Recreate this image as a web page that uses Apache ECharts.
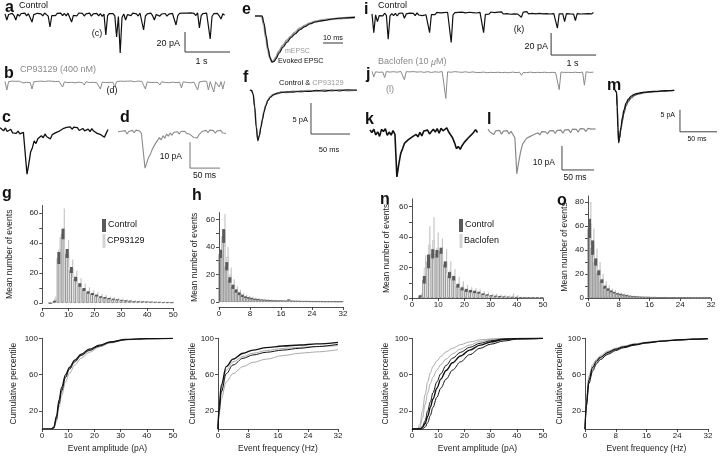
<!DOCTYPE html>
<html><head><meta charset="utf-8">
<script src="https://cdn.jsdelivr.net/npm/echarts@6/dist/echarts.min.js"></script>
<style>html,body{margin:0;padding:0;background:#fff}#c{width:720px;height:456px}</style>
</head><body><div id="c"></div>
<script>
// ================= DATA =================
// long spontaneous traces (pA), sampled every dtLong seconds
const dtLong = 0.04;
const traceA = [1.2,-5,0.5,-1.0,1.6,-0.6,-5,0.8,-1.2,1.5, -0.5,1.8,-0.8,1.3,-0.2,-7,0.4,-1.0,1.7,-0.3,
 1.2,-0.9,2.0,0.1,-1.1,-12,-0.5,1.4,-0.7,1.6, -0.2,1.9,-0.6,1.5,-0.9,1.8,0.0,-7,-0.4,1.3,
 -0.8,2.0,0.2,1.6,-1.0,1.2,-0.3,1.9,-1.2,1.1, -0.5,1.7,-0.9,1.4,-1.3,0.9,-20,-0.6,1.5,-0.4,
 1.3,-0.8,-22,-1.5,-38,-2.5,1.0,-5,0.3,1.6, -0.6,1.8,-0.2,1.1,-1.0,2.0,0.1,-15,-1.0,1.2,
 -0.4,1.9,-0.7,-5,0.5,1.4,-1.1,1.0,-0.3,1.5, -1.2,0.9,-0.5,1.7,-0.1,-10,-0.6,1.6,-0.4,2.0,
 0.3,1.8,-0.2,2.2,0.2,1.6,-0.5,2.1,-13,-0.6, 1.5,-0.3,1.9,0.0,-24,-1.5,1.3,-0.4,1.7,-0.8, -4,1.2,-0.2];
const traceB = [0.6,-8,0.3,-0.8,0.9,-0.4,0.7,-0.9,0.8,-0.2, -0.9,0.7,-0.3,0.9,-0.6,-7,0.2,-0.7,0.6,-0.5,
 0.9,-0.3,0.5,-0.8,1.0,-0.4,0.8,-0.6,0.4,-0.9, 0.7,-0.5,-5,0.1,0.8,-0.6,0.9,-0.3,0.6,-0.8,
 1.0,-0.2,0.5,-0.7,-3,0.2,0.9,-0.5,1.1,-0.3, 0.4,-0.8,0.7,-7,-0.2,0.8,-0.6,0.6,-0.4,1.0,
 -0.3,-5,0.3,-0.6,0.9,-0.5,0.7,-0.9,0.8,-0.2, 1.0,-0.4,0.3,-0.8,0.9,-0.3,0.6,-0.7,-7,0.1,
 0.8,-0.5,0.9,-0.3,0.7,-0.6,-3,0.2,0.9,-0.4, 0.8,-0.7,0.6,-0.2,1.0,-0.6,0.5,-0.3,-6,0.2,
 0.9,-0.4,0.6,-0.8,0.7,-0.2,0.9,-8,0.1,-0.6, 0.8,-0.5,0.7,-8,0.3,-0.4,-10,0.2,-0.6,-5, 0.4,-7,0.6];
const traceI = [1.0,-16,0.2,-6,-0.5,1.2,-0.8,1.6,-0.4,-22, -0.8,1.3,-0.6,1.5,-0.9,1.4,0.0,1.8,-3,1.0,
 -0.4,1.7,0.1,1.4,-0.6,1.9,0.0,1.6,-0.5,1.3, 0.2,1.8,-16,0.4,2.0,0.3,2.3,0.6,1.9,0.1,
 2.2,0.5,2.5,0.8,-25,0.0,2.1,0.4,2.4,0.7, 2.6,0.9,2.0,0.3,2.5,1.0,2.2,0.5,1.8,0.2,
 2.4,0.6,-16,0.5,2.3,0.8,2.7,1.0,2.1,0.4, 2.6,1.2,2.9,0.9,2.4,1.3,2.8,0.7,2.5,1.1,
 2.7,0.8,2.3,-2,2.6,1.2,3.0,1.0,2.5,1.4, 2.9,1.1,2.6,1.5,3.1,1.0,2.8,1.3,2.4,0.9,
 2.7,1.2,2.9,-12,1.0,2.6,1.1,-6,1.3,2.7, 1.0,2.5,0.8,-5,1.2,2.6,0.9,2.4,1.1,2.8, 1.3,2.5,1.0,2.3];
const traceJ = [0.6,-4.5,0.2,0.9,-0.3,1.1,0.0,-5,0.4,1.2, -0.1,1.5,0.3,1.3,-0.2,1.4,0.5,1.2,-7,0.3,
 1.4,0.1,1.6,0.4,1.3,-0.1,1.5,0.2,1.1,-0.3, 1.2,0.3,1.0,-0.4,1.1,0.2,1.3,-0.2,0.9,0.4,
 1.0,-24,0.1,0.8,-0.2,1.2,0.3,1.4,0.0,1.1, -0.3,1.0,0.2,1.3,-0.4,0.9,0.1,1.2,-0.5,0.8,
 -0.4,0.9,-0.1,0.7,-0.6,0.8,-0.3,1.0,-0.5,0.6, -0.2,0.9,-0.6,0.7,-0.3,0.8,-0.7,0.5,-0.1,0.9,
 -0.5,0.6,-0.2,-3,-0.4,0.7,-0.6,0.8,-0.1,0.5, -0.6,0.8,-0.3,0.6,-0.5,0.9,-0.2,0.7,-0.6,0.5,
 -0.3,0.8,-0.5,0.6,-16,0.0,0.7,-0.4,0.8,-0.3, 0.6,-0.5,0.9,-0.2,0.5,-0.6,0.8,-0.1,-12,0.2, 0.7,-0.4,0.6,-0.1];
// single events (pA), sampled every dtShort ms
const dtShort = 3;
const traceC = [0.9,0.4,-0.3,0.8,-0.6,-0.2,0.3,-1.1,-0.6,-1.3, -0.4,-1.5,-0.8,-0.9,-1.0,-17,-13,-8.5,-6.8,-4.2,
 -5.2,-3.4,-4.0,-2.2,-3.0,-1.5,-2.6,-2.4,-3.4,-1.8, -1.8,-1.0,-1.6,-0.4,-0.9,0.5,-0.1,1.0,0.6,1.2,
 0.3,1.1,0.6,0.9,-0.2,0.4,0.6,-0.3,-0.9,0.3, -0.6,0.5,-0.4,-0.2,-1.3,-0.7,-1.8,-2.4,-2.8,-1.2,0.2];
const traceD = [0.5,-0.2,0.7,0.3,0.9,-0.4,0.6,0.2,1.0,0.1, 1.1,0.5,0.8,-0.1,-0.5,-13.5,-11.5,-9.3,-8.2,-6.3,
 -5.7,-3.8,-3.5,-1.8,-2.7,-1.0,-2.0,-0.4,-1.2,0.0, -0.9,0.3,-0.2,0.5,-0.4,0.6,0.1,0.7,-0.1,0.6,
 -0.5,-0.6,-1.7,-1.8,-1.9,-0.6,-0.4,0.7,0.4,1.0, 0.1,1.1,0.6,0.9,-0.1,0.8,0.4,1.0,0.1,0.7,-0.2];
const traceK = [1.2,0.2,1.6,-0.8,0.5,-1.4,1.5,0.6,1.8,-1.0, 0.4,-0.9,1.0,-0.6,-18.3,-13,-8.5,-6.5,-4.2,-3.8,
 -2.8,-2.6,-1.6,-2.2,-0.6,-1.6,0.3,-1.2,0.8,0.1, 1.2,-0.4,0.6,1.6,0.4,1.8,-0.1,2.0,0.9,1.7,
 2.1,0.4,0.6,-2.0,-4.0,-6.5,-5.6,-6.8,-5.2,-4.0, -4.5,-2.2,-2.6,-0.6,0.3,1.4,0.2];
const traceL = [1.6,0.4,1.0,-0.6,0.9,0.2,1.1,-0.5,0.8,0.1, 1.0,-0.4,0.7,-0.6,-2,-17,-12,-7.8,-4.6,-4.0,
 -2.3,-2.2,-1.4,-1.2,-0.6,-0.9,0.1,-0.8,0.6,-0.2, 0.5,-0.4,0.9,0.3,1.0,-0.2,1.1,0.5,1.2,-0.1,
 1.3,0.7,1.4,0.1,1.6,0.9,1.5,0.4,1.8,1.0, 1.7,0.6,1.9,1.2,1.6,0.8,1.7];
// averaged waveforms
const eTime   = [0,2,3.5,4.5,5.5,6.5,7.5,8.5,9.5,10.5,12,14,16,18,20,22.5,25,27.5,30,34,38,42,46,50];
const eMini   = [0,0,-0.01,-0.2,-0.48,-0.74,-0.92,-1.0,-0.97,-0.9,-0.77,-0.64,-0.53,-0.44,-0.36,-0.27,-0.21,-0.16,-0.12,-0.09,-0.07,-0.05,-0.04,-0.03];
const eEvoked = [0,0,0,-0.16,-0.42,-0.7,-0.9,-1.0,-0.99,-0.93,-0.81,-0.68,-0.57,-0.47,-0.39,-0.3,-0.23,-0.17,-0.13,-0.1,-0.07,-0.05,-0.04,-0.03];
const fTime    = [0,2,4,6,8,10,12,14,16,18,20,23,26,30,35,40,47,55,65,75,85,95,105,115,125,137];
const fControl = [0,-0.1,-0.7,-2.8,-6.0,-8.2,-7.4,-6.0,-4.8,-3.6,-2.6,-1.7,-1.2,-0.8,-0.5,-0.45,-0.3,-0.35,-0.15,-0.25,-0.05,-0.2,0.0,-0.15,0.05,-0.05];
const fCP      = [0,-0.05,-0.6,-2.6,-5.8,-8.0,-7.3,-5.9,-4.6,-3.4,-2.5,-1.6,-1.1,-0.7,-0.6,-0.3,-0.4,-0.2,-0.3,-0.1,-0.2,0.0,-0.15,0.05,-0.1,0.0];
const mTime     = [0,2,3,4,5,6,8,10,12,15,18,22,26,30,35,40,48,56,64,72,80];
const mControl  = [0,-0.5,-4,-9,-12,-11,-8.5,-6.3,-4.6,-3.0,-2.1,-1.4,-1.0,-0.8,-0.6,-0.5,-0.35,-0.3,-0.2,-0.15,-0.1];
const mBaclofen = [0,-0.4,-3.5,-8.5,-11.6,-11,-9,-7,-5.3,-3.6,-2.6,-1.8,-1.3,-1.0,-0.8,-0.6,-0.45,-0.35,-0.25,-0.2,-0.1];
// histograms (mean number of events, sem)
const ampBins  = [3.1,4.7,6.3,7.9,9.5,11.1,12.7,14.3,15.9,17.5,19.1,20.7,22.3,23.9,25.5,27.1,28.7,30.3,31.9,33.5,35.1,36.7,38.3,39.9,41.5,43.1,44.7,46.3,47.9,49.5];
const freqBins = [0.4,1.2,2.0,2.8,3.6,4.4,5.2,6.0,6.8,7.6,8.4,9.2,10.0,10.8,11.6,12.4,13.2,14.0,14.8,15.6,16.4,17.2,18.0,18.8,19.6,20.4,21.2,22.0,22.8,23.6,24.4,25.2,26.0,26.8,27.6,28.4,29.2,30.0,30.8,31.6];
const gCtrlMean = [0,1,30,46,33,22,16,12,9,7,6,5,4,3.5,3,2.5,2.2,1.8,1.5,1.3,1.1,1,0.9,0.8,0.7,0.6,0.6,0.5,0.5,0.4];
const gCtrlSem  = [0,0.5,4,3.5,3,2,1.5,1.2,1,0.8,0.7,0.6,0.5,0.5,0.4,0.4,0.3,0.3,0.3,0.3,0.2,0.2,0.2,0.2,0.2,0.2,0.2,0.2,0.2,0.2];
const gCPMean   = [0,3,36,50,33,23,17,13,10,8,6.5,5.5,4.5,4,3.2,2.8,2.4,2,1.7,1.5,1.3,1.1,1,0.9,0.8,0.7,0.6,0.6,0.5,0.5];
const gCPSem    = [0,1.5,8,13,9,6,4.5,3.5,3,2.5,2,1.8,1.5,1.3,1.1,1,0.9,0.8,0.7,0.6,0.6,0.5,0.5,0.4,0.4,0.4,0.3,0.3,0.3,0.3];
const hCtrlMean = [35,48,26,16,11,8,6,4.5,3.5,3,2.5,2,1.8,1.5,1.4,1.2,1.1,1,1,0.9,0.9,0.8,1.5,0.8,0.7,0.7,0.6,0.6,0.6,0.5,0.5,0.5,0.5,0.4,0.4,0.4,0.4,0.3,0.3,0.3];
const hCtrlSem  = [3,5,3,2,1.5,1.2,1,0.8,0.6,0.5,0.5,0.4,0.4,0.3,0.3,0.3,0.3,0.2,0.2,0.2,0.2,0.2,0.4,0.2,0.2,0.2,0.2,0.2,0.2,0.2,0.2,0.2,0.2,0.2,0.2,0.2,0.2,0.2,0.2,0.2];
const hCPMean   = [37,52,33,20,13,9,7,5,4,3.5,3,2.5,2.2,1.9,1.7,1.5,1.3,1.2,1.1,1,1,0.9,1.2,0.9,0.8,0.8,0.7,0.7,0.7,0.6,0.6,0.6,0.6,0.5,0.5,0.5,0.5,0.4,0.4,0.4];
const hCPSem    = [5,12,7,5,3.5,2.5,2,1.5,1.2,1,0.8,0.7,0.6,0.6,0.5,0.5,0.5,0.4,0.4,0.4,0.4,0.4,0.4,0.3,0.3,0.3,0.3,0.3,0.3,0.3,0.3,0.3,0.3,0.3,0.3,0.3,0.3,0.3,0.3,0.3];
const nCtrlMean = [1,12,24,29,29,31,22,15,13,8,6,5,4.5,4,3.5,2.5,2,1.5,1.2,1,0.8,0.7,0.6,0.5,0.4,0.3,0.3,0.2,0.2,0.2];
const nCtrlSem  = [0.8,2.5,4.5,3,2.5,2,2,2,1.5,1.2,1,1,0.8,0.8,0.6,0.5,0.4,0.3,0.3,0.3,0.2,0.2,0.2,0.2,0.2,0.2,0.2,0.2,0.2,0.2];
const nBacMean  = [2,20,35,38,33,30,24,18,14,10,8,6,5,4.5,4,3,2.5,2,1.8,1.5,1.2,1,1.5,1.2,0.6,0.5,0.4,0.4,0.3,0.3];
const nBacSem   = [1,8,12,15,10,9,8,6,5,4,3,2.5,2,2,1.8,1.5,1.2,1,1,0.8,0.7,0.6,1.5,0.8,0.4,0.4,0.3,0.3,0.3,0.3];
const oCtrlMean = [58,42,30,21,14,9,7,5.5,4.5,3.5,3,2.5,2,1.6,1.3,1.1,1,0.9,0.8,0.8,0.7,0.7,0.6,0.6,0.6,0.5,0.5,0.5,0.5,0.4,0.4,0.4,0.4,0.4,0.3,0.3,0.3,0.3,0.3,0.3];
const oCtrlSem  = [8,6,3,2,1.5,1.2,1,0.8,0.6,0.5,0.5,0.4,0.4,0.3,0.3,0.3,0.2,0.2,0.2,0.2,0.2,0.2,0.2,0.2,0.2,0.2,0.2,0.2,0.2,0.2,0.2,0.2,0.2,0.2,0.2,0.2,0.2,0.2,0.2,0.2];
const oBacMean  = [62,46,33,24,16,11,8,6,5,4,3.5,3,2.5,2,1.6,1.3,1.1,1,0.9,0.9,0.8,0.8,0.7,0.7,0.7,0.6,0.6,0.6,0.5,0.5,0.5,0.5,0.5,0.4,0.4,0.4,0.4,0.4,0.4,0.4];
const oBacSem   = [18,12,8,6,4,3,2.5,2,1.5,1.2,1,0.8,0.7,0.6,0.5,0.5,0.4,0.4,0.4,0.4,0.3,0.3,0.3,0.3,0.3,0.3,0.3,0.3,0.3,0.3,0.3,0.3,0.3,0.3,0.3,0.3,0.3,0.3,0.3,0.3];
// cumulative distributions (percentile)
const gAmpX     = [0,3.5,4.5,5.5,6.5,7.5,9,10.5,12.5,15,18,22,26,32,40,50];
const gCumCtrl1 = [0,0,2,14,32,46,60,68,76,82.5,88,92.5,96,98.8,99.7,100];
const gCumCtrl2 = [0,0,1,11,28,42,57,66,74,81,86.5,91.5,95.5,98.5,99.6,100];
const gCumCP1   = [0,0,1.5,12,30,44,58,67,75,81.5,87,92,95.8,98.6,99.6,100];
const gCumCP2   = [0,0,0.5,8,24,37,52,61.5,70.5,78,84.5,90.5,94.8,98.2,99.5,100];
const hFreqX    = [0,0.3,0.9,2.2,4,6.7,9.3,12.9,17.3,21.8,26.2,32];
const hCumCtrl1 = [0,25,48.5,68.8,77,83.5,87,89.7,91.5,92.6,93.8,95.5];
const hCumCtrl2 = [0,20,41,61,70.6,78,81.6,84.6,87,89,90.8,93.4];
const hCumCP1   = [0,22,45,65,74,80,83.5,86.5,88.8,90,91,92];
const hCumCP2   = [0,16,34,52,61,68.8,73.5,77,81,83.5,85,87.5];
const nAmpX     = [0,2,3,4,5,6,7,8,9.5,11,13,15.5,18.5,22,26,30,35,40,50];
const nCumBac1  = [0,0,5,20,38,52,62,69,75,80,85,89,93,96,98.3,99.3,99.8,100,100];
const nCumBac2  = [0,0,2,12,27,40,50,57,65,71,77,83,88,92.5,96.5,98.6,99.5,100,100];
const nCumCtrl1 = [0,0,0,3,9,20,30,40,52,61,70,78,84.5,90,94.5,97.3,99.2,99.8,100];
const nCumCtrl2 = [0,0,0,1.5,6,14,24,33,45,55,64.5,73,80.5,87,92.5,96,98.6,99.6,100];
const nCumCtrl3 = [0,0,0,0,2,7,15,24,35,45,55,65,74,82,89,93.5,97,99,100];
const oFreqX    = [0,0.4,1,2,3,4,6,8,10,13,16,20,24,28,32];
const oCumBac1  = [0,35,58,71,77,81,86,89,91.5,94,95.8,97.4,98.5,99.2,99.8];
const oCumCtrl1 = [0,30,54,68,75,79,84.5,88,90.5,93.3,95.3,97,98.2,99,99.6];
const oCumCtrl2 = [0,26,50,64,72,76.5,82.5,86.5,89.5,92.5,94.8,96.7,98,98.9,99.5];
const oCumBac2  = [0,28,52,66,73.5,78,83.5,87.3,90,93,95,96.8,98.1,98.9,99.6];

// ================= STYLE / BUILD =================
const FONT = '"Liberation Sans", Arial, Helvetica, sans-serif';
const fnt = (s, b) => (b ? 'bold ' : '') + s + 'px ' + FONT;
const BLACK = '#111', GRAY = '#8a8a8a', LGRAY = '#a0a0a0';
const option = {animation:false, backgroundColor:'#fff', grid:[], xAxis:[], yAxis:[], series:[], graphic:[]};

function panel(rect, xa, ya) {
  const i = option.grid.length;
  option.grid.push(rect);
  option.xAxis.push(Object.assign({gridIndex:i, type:'value'}, xa));
  option.yAxis.push(Object.assign({gridIndex:i, type:'value'}, ya));
  return i;
}
const hid = (min, max) => ({min, max, show:false, splitLine:{show:false}});
function vis(extra, tickVals, labelVals) {
  const o = {
    axisLine:{show:true, onZero:false, lineStyle:{color:'#222', width:0.8}},
    axisTick:{show:true, length:3, lineStyle:{color:'#222', width:0.8}},
    axisLabel:{fontSize:8, color:'#222', fontFamily:FONT, margin:3},
    splitLine:{show:false},
    nameTextStyle:{fontSize:8.5, color:'#222', fontFamily:FONT}
  };
  if (tickVals) o.axisTick.customValues = tickVals;
  if (labelVals) o.axisLabel.customValues = labelVals;
  return Object.assign(o, extra);
}
function line(gi, pts, color, width, z, smooth) {
  option.series.push({type:'line', xAxisIndex:gi, yAxisIndex:gi, data:pts, symbol:'none', silent:true,
    smooth: smooth ? 0.35 : false, smoothMonotone: smooth ? 'x' : undefined,
    lineStyle:{color, width}, z: z || 2});
}
const sampled = (vals, dt) => vals.map((v, k) => [k * dt, v]);
const paired = (xs, ys) => xs.map((x, k) => [x, ys[k]]);

// ---- trace panels ----
const gA = panel({left:5, top:5, width:225, height:50}, hid(0,5), hid(-40,10));
line(gA, sampled(traceA, dtLong), BLACK, 1.2);
line(gA, [[4.0,-17],[4.0,-37],[5.0,-37]], '#333', 1);
const gB = panel({left:5, top:72, width:225, height:30}, hid(0,5), hid(-20,10));
line(gB, sampled(traceB, dtLong), GRAY, 1);
const gI = panel({left:372, top:4, width:225, height:55}, hid(0,5), hid(-40,10));
line(gI, sampled(traceI, dtLong), BLACK, 1.2);
line(gI, [[3.98,-16.4],[3.98,-36.4],[4.98,-36.4]], '#333', 1);
const gJ = panel({left:372, top:61, width:225, height:38.5}, hid(0,5), hid(-25,10));
line(gJ, sampled(traceJ, dtLong), GRAY, 1);
const gC = panel({left:0, top:117, width:110, height:65}, hid(0,183.3), hid(-20,5));
line(gC, sampled(traceC, dtShort), BLACK, 1.3);
const gD = panel({left:118, top:120, width:114, height:65}, hid(0,190), hid(-20,5));
line(gD, sampled(traceD, dtShort), GRAY, 1.1);
line(gD, [[120,-3.5],[120,-13.5],[170,-13.5]], '#777', 1);
const gK = panel({left:370, top:121, width:108.8, height:60}, hid(0,170), hid(-20,5));
line(gK, sampled(traceK, dtShort), BLACK, 1.6);
const gL = panel({left:488, top:121, width:108.8, height:60}, hid(0,170), hid(-20,5));
line(gL, sampled(traceL, dtShort), GRAY, 1.2);
line(gL, [[115.6,-5.4],[115.6,-15.4],[165.6,-15.4]], '#444', 1);
const gE = panel({left:255, top:6.8, width:102, height:59.8}, hid(0,51), hid(-1.1,0.2));
line(gE, paired(eTime, eMini), '#9a9a9a', 2.2, 2, true);
line(gE, paired(eTime, eEvoked), BLACK, 1.1, 3, true);
line(gE, [[34,-0.587],[44,-0.587]], '#333', 1);
const gF = panel({left:250, top:77.6, width:109.2, height:68.2}, hid(0,140), hid(-9,2));
line(gF, paired(fTime, fCP), '#8a8a8a', 1.6, 2, true);
line(gF, paired(fTime, fControl), BLACK, 1.1, 3, true);
line(gF, [[78.2,-2.1],[78.2,-7.1],[128.2,-7.1]], '#444', 1);
const gM = panel({left:615, top:81.2, width:103.6, height:66}, hid(0,140), hid(-13,2));
line(gM, paired(mTime, mBaclofen), '#555', 1.3, 2, true);
line(gM, paired(mTime, mControl), BLACK, 1.3, 3, true);
line(gM, [[87.8,-4.5],[87.8,-9.5],[137.8,-9.5]], '#444', 1);

// ---- histograms ----
function histo(rect, xmax, xint, ymax, yLabs, yTicks, xoff, nameGap, bins, cM, cS, dM, dS) {
  const gi = panel(rect,
    vis({min:0, max:xmax, interval:xint, offset:xoff}),
    vis({min:0, max:ymax, name:'Mean number of events', nameLocation:'middle', nameGap:nameGap, axisLabel:{fontSize:8, color:'#222', fontFamily:FONT, margin:4, customValues:yLabs}}, yTicks));
  const base = {type:'bar', xAxisIndex:gi, yAxisIndex:gi, silent:true, barWidth:2.6, barGap:'-40%'};
  option.series.push(Object.assign({}, base, {data:paired(bins, cM), z:2,
    itemStyle:{color:'rgba(255,255,255,0)', borderColor:'#808080', borderWidth:0.8}}));
  option.series.push(Object.assign({}, base, {data:paired(bins, dM), z:1,
    itemStyle:{color:'rgba(255,255,255,0)', borderColor:'#c2c2c2', borderWidth:0.8}}));
  const err = (M, S, color, w, dx, z) => option.series.push({type:'custom', xAxisIndex:gi, yAxisIndex:gi, silent:true, z,
    data: bins.map((x, k) => [x, Math.max(0, M[k] - S[k]), M[k] + S[k]]),
    encode:{x:0, y:[1,2]},
    renderItem:(p, api) => {
      const lo = api.coord([api.value(0), api.value(1)]);
      const hi = api.coord([api.value(0), api.value(2)]);
      return {type:'rect', shape:{x:lo[0] + dx - w/2, y:hi[1], width:w, height:Math.max(0.6, lo[1] - hi[1])}, style:{fill:color}};
    }});
  err(dM, dS, '#c6c6c6', 1.2, 1.3, 3);
  err(cM, cS, '#5a5a5a', 3, 0, 4);
  return gi;
}
histo({left:42.3, top:205.5, width:131, height:97.5}, 50, 10, 65, [0,20,40,60], [0,10,20,30,40,50,60], 5, 28,
      ampBins, gCtrlMean, gCtrlSem, gCPMean, gCPSem);
histo({left:219, top:212.6, width:124, height:89.4}, 32, 8, 65, [0,20,40,60], [0,10,20,30,40,50,60], 5, 20,
      freqBins, hCtrlMean, hCtrlSem, hCPMean, hCPSem);
histo({left:412, top:198.9, width:131, height:99.1}, 50, 10, 65, [0,20,40,60], [0,10,20,30,40,50,60], 0, 21,
      ampBins, nCtrlMean, nCtrlSem, nBacMean, nBacSem);
histo({left:588, top:196, width:123, height:102}, 32, 8, 85, [0,20,40,60,80], [0,10,20,30,40,50,60,70,80], 0, 19,
      freqBins, oCtrlMean, oCtrlSem, oBacMean, oBacSem);

// ---- cumulative plots ----
function cum(rect, xmax, xint, xname, gap, xs, lines) {
  const gi = panel(rect,
    vis({min:0, max:xmax, interval:xint, name:xname, nameLocation:'middle', nameGap:15}),
    vis({min:0, max:100, name:'Cumulative percentile', nameLocation:'middle', nameGap:gap,
         axisLabel:{fontSize:8, color:'#222', fontFamily:FONT, margin:4, customValues:[20,60,100]}}, [20,60,100]));
  lines.forEach(l => line(gi, paired(xs, l[0]), l[1], l[2], l[3], true));
}
cum({left:42, top:338.3, width:131, height:90.7}, 50, 10, 'Event amplitude (pA)', 24, gAmpX,
    [[gCumCP2,LGRAY,0.9,2],[gCumCP1,LGRAY,0.9,2],[gCumCtrl2,BLACK,1,3],[gCumCtrl1,BLACK,1.2,3]]);
cum({left:218, top:338.3, width:120, height:90.7}, 32, 8, 'Event frequency (Hz)', 19, hFreqX,
    [[hCumCP2,LGRAY,0.9,2],[hCumCP1,LGRAY,0.9,2],[hCumCtrl2,BLACK,1,3],[hCumCtrl1,BLACK,1.4,3]]);
cum({left:412, top:338.3, width:131, height:90.7}, 50, 10, 'Event amplitude (pA)', 22, nAmpX,
    [[nCumBac1,LGRAY,0.9,2],[nCumBac2,LGRAY,0.9,2],[nCumCtrl1,BLACK,1,3],[nCumCtrl2,BLACK,1.4,3],[nCumCtrl3,BLACK,1,3]]);
cum({left:585, top:338.3, width:123, height:90.7}, 32, 8, 'Event frequency (Hz)', 19, oFreqX,
    [[oCumBac1,LGRAY,0.9,2],[oCumBac2,LGRAY,0.9,2],[oCumCtrl2,BLACK,1,3],[oCumCtrl1,BLACK,1.2,3]]);

// ---- text ----
function txt(text, x, y, size, opts) {
  option.graphic.push({type:'text', x, y, silent:true, z:100,
    style:Object.assign({text, fill:BLACK, font:fnt(size), align:'left', verticalAlign:'middle'}, opts || {})});
}
[['a',5,13],['b',4,79],['c',2,123],['d',120,123],['e',242,15],['f',243,83],['g',2,199],['h',192,201],
 ['i',364,15],['j',366,80],['k',365,125],['l',487,125],['m',607,91],['n',380,205],['o',557,206]]
 .forEach(([t,x,b]) => txt(t, x, b - 5.6, 16, {font:fnt(16, true)}));
txt('Control', 19, 5.5, 9);
txt('(c)', 97, 33.5, 9, {align:'center'});
txt('20 pA', 180, 43.5, 9, {align:'right'});
txt('1 s', 201.5, 61.5, 9, {align:'center'});
txt('CP93129 (400 nM)', 20, 70, 9, {fill:GRAY});
txt('(d)', 112, 91, 9, {align:'center'});
txt('10 pA', 182, 157, 8.5, {align:'right'});
txt('50 ms', 204.5, 176, 8.5, {align:'center'});
txt('10 ms', 333, 37.5, 7.3, {align:'center'});
txt('mEPSC', 285, 51, 7, {fill:'#999'});
txt('Evoked EPSC', 278, 61, 7.2);
txt('{k|Control &} {g|CP93129}', 279, 83, 7.5, {rich:{k:{fill:BLACK, font:fnt(7.5)}, g:{fill:'#999', font:fnt(7.5)}}});
txt('5 pA', 308, 119.5, 7.5, {align:'right'});
txt('50 ms', 329, 149.5, 7.5, {align:'center'});
txt('Control', 378, 6, 9);
txt('(k)', 519, 29.5, 9, {align:'center'});
txt('20 pA', 548, 46.5, 9, {align:'right'});
txt('1 s', 572.5, 64, 9, {align:'center'});
txt('Baclofen (10 {i|μ}M)', 378, 62, 9, {fill:GRAY, rich:{i:{fill:GRAY, font:'italic 9px ' + FONT}}});
txt('(l)', 390, 89.5, 9, {align:'center', fill:GRAY});
txt('10 pA', 555, 163, 8.5, {align:'right'});
txt('50 ms', 575, 178, 8.5, {align:'center'});
txt('5 pA', 675, 115, 7, {align:'right'});
txt('50 ms', 697, 139, 7, {align:'center'});
// histogram legends
function legendBlock(x, y, a, b) {
  option.graphic.push({type:'rect', silent:true, z:100, shape:{x:x, y:y, width:4, height:13}, style:{fill:'#5a5a5a'}});
  option.graphic.push({type:'rect', silent:true, z:100, shape:{x:x+0.5, y:y+15, width:3, height:14}, style:{fill:'#d4d4d4'}});
  txt(a, x + 6, y + 6, 9);
  txt(b, x + 5, y + 22, 9);
}
legendBlock(102, 219, 'Control', 'CP93129');
legendBlock(459, 219, 'Control', 'Baclofen');

echarts.init(document.getElementById('c'), null, {renderer:'canvas'}).setOption(option);
</script></body></html>
